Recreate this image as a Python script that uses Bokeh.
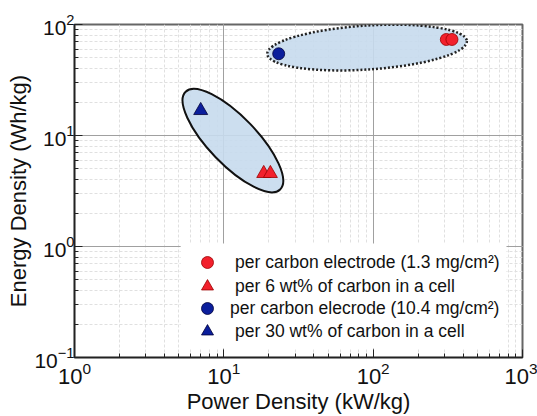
from bokeh.plotting import figure
from bokeh.models import Legend, LegendItem, BoxAnnotation
from bokeh.embed import file_html
from bokeh.resources import INLINE

# ---- data ----
red_circle_x = [309, 337]
red_circle_y = [73.3, 73.3]
red_tri_x = [18.5, 20.5]
red_tri_y = [4.55, 4.55]
blue_circle_x = [23.3]
blue_circle_y = [54.5]
blue_tri_x = [7.0]
blue_tri_y = [16.8]

labels = [
    "per carbon electrode (1.3 mg/cm\u00b2)",
    "per 6 wt% of carbon in a cell",
    "per carbon elecrode (10.4 mg/cm\u00b2)",
    "per 30 wt% of carbon in a cell",
]

# grouping ellipses (centre in data units)
solid_ell_x = [11.5]
solid_ell_y = [9.0]
dotted_ell_x = [91.0]
dotted_ell_y = [62.0]

x_range = (1, 1000)
y_range = (0.1, 100)

FONT = "Liberation Sans"
RED = "#f2202c"
RED_EDGE = "#9a0000"
BLUE = "#0b1e9c"
BLUE_EDGE = "#00003a"
ELL_FILL = "#c6daed"

p = figure(width=537, height=416, x_axis_type="log", y_axis_type="log",
           x_range=x_range, y_range=y_range, output_backend="svg",
           toolbar_location=None, min_border_left=74, min_border_top=24,
           min_border_right=15, min_border_bottom=59)

p.background_fill_color = "white"
p.outline_line_color = "#666666"
p.outline_line_width = 2

for ax in (p.xaxis[0], p.yaxis[0]):
    ax.axis_line_color = "#222222"
    ax.axis_line_width = 1.5
    ax.major_tick_in = 8
    ax.major_tick_out = 0
    ax.minor_tick_in = 4
    ax.minor_tick_out = 0
    ax.major_tick_line_color = "#222222"
    ax.minor_tick_line_color = "#222222"
    ax.major_label_text_font = FONT
    ax.major_label_text_color = "#111111"
    ax.axis_label_text_font = FONT
    ax.axis_label_text_font_style = "normal"
    ax.axis_label_text_color = "#111111"
    ax.axis_label_text_font_size = "22px"

p.xaxis.major_label_text_font_size = "22px"
p.yaxis.major_label_text_font_size = "21px"
p.xaxis.axis_label = "Power Density (kW/kg)"
p.yaxis.axis_label = "Energy Density (Wh/kg)"
p.xaxis.major_label_standoff = 4
p.xaxis.axis_label_standoff = 2
p.yaxis.major_label_standoff = 0
p.yaxis.axis_label_standoff = 0

for g in (p.xgrid[0], p.ygrid[0]):
    g.grid_line_color = "#a0a0a0"
    g.grid_line_width = 1
    g.minor_grid_line_color = "#e0e0e0"
    g.minor_grid_line_dash = "3 2"
    g.minor_grid_line_width = 1

# ellipses
p.ellipse(x=solid_ell_x, y=solid_ell_y, width=136, height=48, angle=-0.803,
          width_units="screen", height_units="screen",
          fill_color=ELL_FILL, fill_alpha=0.9, line_color="#111111", line_width=2)
p.ellipse(x=dotted_ell_x, y=dotted_ell_y, width=200, height=44, angle=0.065,
          width_units="screen", height_units="screen",
          fill_color=ELL_FILL, fill_alpha=0.9, line_color="#222222", line_width=2.5,
          line_dash="2 2")

r1 = p.scatter(red_circle_x, red_circle_y, marker="circle", size=12,
               fill_color=RED, line_color=RED_EDGE, line_width=0.8)
r2 = p.scatter(red_tri_x, red_tri_y, marker="triangle", size=14,
               fill_color=RED, line_color=RED_EDGE, line_width=0.8)
r3 = p.scatter(blue_circle_x, blue_circle_y, marker="circle", size=12,
               fill_color=BLUE, line_color=BLUE_EDGE, line_width=0.8)
r4 = p.scatter(blue_tri_x, blue_tri_y, marker="triangle", size=14,
               fill_color=BLUE, line_color=BLUE_EDGE, line_width=0.8)

# white area behind legend
p.add_layout(BoxAnnotation(left=5.14, right=781, bottom=0.1205, top=1.064,
                           fill_color="white", fill_alpha=1.0, line_alpha=0))

def make_legend(renderer, label, loc, standoff):
    lg = Legend(items=[LegendItem(label=label, renderers=[renderer])],
                location=loc, orientation="vertical",
                background_fill_alpha=0, border_line_alpha=0,
                label_text_font=FONT, label_text_font_size="17.5px",
                label_text_color="#111111", glyph_width=30, glyph_height=30,
                label_height=20, spacing=0, padding=10, margin=0,
                label_standoff=standoff)
    p.add_layout(lg, "center")

make_legend(r1, labels[0], (108, 70), 13)
make_legend(r2, labels[1], (108, 46), 13)
make_legend(r3, labels[2], (108, 24), 8)
make_legend(r4, labels[3], (108, 1), 13)

open("out.html", "w").write(file_html(p, INLINE))
